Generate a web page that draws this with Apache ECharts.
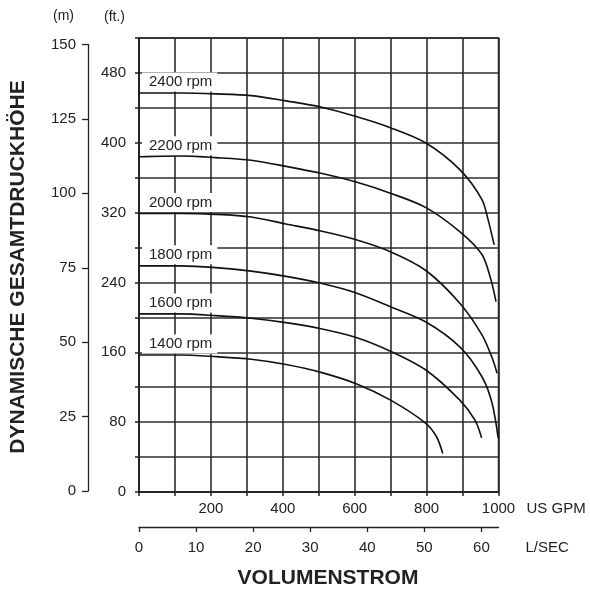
<!DOCTYPE html>
<html><head><meta charset="utf-8">
<script src="https://cdn.jsdelivr.net/npm/echarts@6/dist/echarts.min.js"></script>
<style>html,body{margin:0;padding:0;background:#fff}#c{width:590px;height:590px}</style>
</head><body><div id="c"></div>
<script>
// ---- data ----
const rpmNames = ['2400 rpm', '2200 rpm', '2000 rpm', '1800 rpm', '1600 rpm', '1400 rpm'];
// flow in US GPM, head in ft
const flow2400 = [0, 114, 214, 312, 409, 506, 604, 701, 797, 893, 954, 971, 988];
const head2400 = [457, 457, 456, 454, 448, 441, 430, 417, 400, 369, 335, 312, 283];
const flow2200 = [0, 114, 214, 312, 409, 506, 604, 701, 797, 893, 954, 979, 993];
const head2200 = [384, 385, 383, 380, 373, 365, 355, 342, 326, 298, 272, 243, 218];
const flow2000 = [0, 114, 214, 312, 409, 506, 604, 701, 797, 893, 954, 982, 996];
const head2000 = [319, 319, 318, 315, 307, 299, 289, 275, 254, 216, 180, 154, 136];
const flow1800 = [0, 114, 214, 312, 409, 506, 604, 701, 797, 893, 954, 982, 999];
const head1800 = [259, 259, 257, 253, 247, 239, 228, 212, 195, 166, 132, 102, 62];
const flow1600 = [0, 114, 214, 312, 409, 506, 604, 701, 797, 893, 935, 953];
const head1600 = [204, 204, 202, 199, 194, 187, 177, 161, 140, 105, 82, 62];
const flow1400 = [0, 114, 214, 312, 409, 506, 604, 701, 797, 828, 845];
const head1400 = [157, 157, 155, 152, 146, 137, 124, 105, 79, 63, 44];

// tick labels
const gpmLabels = [200, 400, 600, 800, 1000];
const lsecLabels = [0, 10, 20, 30, 40, 50, 60];
const ftLabels = [0, 80, 160, 240, 320, 400, 480];
const mLabels = [0, 25, 50, 75, 100, 125, 150];

const flows = [flow2400, flow2200, flow2000, flow1800, flow1600, flow1400];
const heads = [head2400, head2200, head2000, head1800, head1600, head1400];

const FONT = '"Liberation Sans", Arial, Helvetica, sans-serif';
const INK = '#222';
const txt = { color: INK, fontSize: 15, fontFamily: FONT };

const lineSeries = rpmNames.map((n, i) => ({
  name: n, type: 'line', xAxisIndex: 0, yAxisIndex: 0,
  data: flows[i].map((f, j) => [f, heads[i][j]]),
  showSymbol: false, symbol: 'none', smooth: 0.3,
  lineStyle: { color: '#111', width: 1.6 }, z: 3, silent: true
}));

const labelSeries = {
  type: 'scatter', xAxisIndex: 0, yAxisIndex: 0, symbolSize: 0, z: 10, silent: true,
  itemStyle: { opacity: 1 },
  data: rpmNames.map((n, i) => ({ name: n, value: [flows[i][0], heads[i][0]] })),
  label: {
    show: true, position: 'right', distance: 3, offset: [0, -11], opacity: 1,
    formatter: p => p.name, backgroundColor: '#ffffff', padding: [2, 5, 2, 7],
    color: INK, fontSize: 15, fontFamily: FONT
  }
};

const chart = echarts.init(document.getElementById('c'), null, { renderer: 'canvas' });
chart.setOption({
  backgroundColor: '#fff',
  animation: false,
  grid: [
    { left: 139, top: 38, width: 359.5, height: 454, show: true, borderColor: INK, borderWidth: 1.5, backgroundColor: 'transparent' },
    { left: 88, top: 44.5, width: 10, height: 446.5 }
  ],
  xAxis: [
    {
      gridIndex: 0, type: 'value', min: 0, max: 1000, interval: 100, position: 'bottom',
      axisLine: { show: true, lineStyle: { color: INK, width: 1.5 } },
      axisTick: { show: true, length: 4, inside: false, lineStyle: { color: INK, width: 1.5 } },
      axisLabel: { ...txt, margin: 9, formatter: v => gpmLabels.includes(v) ? String(v) : '' },
      splitLine: { show: true, lineStyle: { color: '#2c2c2c', width: 1.6 } },
      name: 'US GPM', nameLocation: 'end', nameGap: 28,
      nameTextStyle: { ...txt, align: 'left', verticalAlign: 'top', padding: [9, 0, 0, 0] }
    },
    {
      gridIndex: 0, type: 'value', min: 0, max: 63, interval: 10, position: 'bottom', offset: 35,
      axisLine: { show: true, onZero: false, lineStyle: { color: INK, width: 1.3 } },
      axisTick: { show: true, length: 5, lineStyle: { color: INK, width: 1.3 } },
      axisLabel: { ...txt, margin: 13, showMaxLabel: false, formatter: v => lsecLabels.includes(v) ? String(v) : '' },
      splitLine: { show: false },
      name: 'L/SEC', nameLocation: 'end', nameGap: 27,
      nameTextStyle: { ...txt, align: 'left', verticalAlign: 'top', padding: [13, 0, 0, 0] }
    },
    { gridIndex: 1, type: 'value', show: false, min: 0, max: 1 }
  ],
  yAxis: [
    {
      gridIndex: 0, type: 'value', min: 0, max: 520, interval: 40, position: 'left',
      axisLine: { show: true, lineStyle: { color: INK, width: 1.5 } },
      axisTick: { show: true, length: 4, lineStyle: { color: INK, width: 1.5 } },
      axisLabel: { ...txt, margin: 13, formatter: v => ftLabels.includes(v) ? String(v) : '' },
      splitLine: { show: true, lineStyle: { color: '#2c2c2c', width: 1.6 } },
      name: '(ft.)', nameLocation: 'end', nameGap: 14,
      nameTextStyle: { ...txt, fontSize: 14, align: 'right', padding: [0, 14, 0, 0] }
    },
    {
      gridIndex: 1, type: 'value', min: 0, max: 150, interval: 25, position: 'left',
      axisLine: { show: true, onZero: false, lineStyle: { color: INK, width: 1.3 } },
      axisTick: { show: true, length: 6, lineStyle: { color: INK, width: 1.3 } },
      axisLabel: { ...txt, margin: 12, formatter: v => mLabels.includes(v) ? String(v) : '' },
      splitLine: { show: false },
      name: '(m)', nameLocation: 'end', nameGap: 21,
      nameTextStyle: { ...txt, fontSize: 14, align: 'right', padding: [0, 14, 0, 0] }
    }
  ],
  graphic: [
    { type: 'text', x: 328, y: 578, z: 10, style: { text: 'VOLUMENSTROM', fill: INK, font: 'bold 21px ' + FONT, textAlign: 'center', textVerticalAlign: 'middle' } },
    { type: 'text', x: 18, y: 267, rotation: Math.PI / 2, z: 10, style: { text: 'DYNAMISCHE GESAMTDRUCKHÖHE', fill: INK, font: 'bold 21px ' + FONT, textAlign: 'center', textVerticalAlign: 'middle' } }
  ],
  series: [...lineSeries, labelSeries]
});
</script></body></html>
